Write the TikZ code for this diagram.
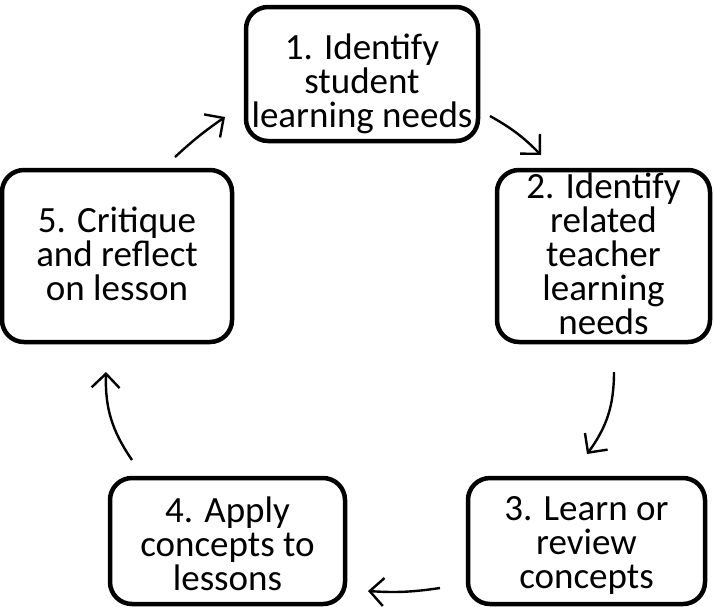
\documentclass[tikz,border=0pt]{standalone}
\usepackage{fontspec}
\setmainfont{Carlito}
\usetikzlibrary{arrows.meta}
\newcommand{\boxtext}[2][0pt]{\makebox[0pt]{\smash{\raisebox{-#1}{\parbox[c]{260pt}{\centering\fontsize{37}{34}\selectfont #2}}}}}
\begin{document}
\begin{tikzpicture}[x=1pt,y=-1pt,
  box/.style={draw, line width=4.5pt, rounded corners=22pt, inner sep=0pt},
  arr/.style={line width=2.4pt, -{Straight Barb[length=14pt,width=28pt]}},
]
\useasboundingbox (0,0) rectangle (714,606);
\node[box, minimum width=232pt, minimum height=134pt] (n1) at (362,74) {\boxtext[12pt]{1. Identify\\student\\learning needs}};
\node[box, minimum width=213pt, minimum height=172pt] (n2) at (603.5,256) {\boxtext{2. Identify\\related\\teacher\\learning\\needs}};
\node[box, minimum width=237pt, minimum height=126pt] (n3) at (586.5,541) {\boxtext[7pt]{3. Learn or\\review\\concepts}};
\node[box, minimum width=235pt, minimum height=126pt] (n4) at (227.5,541) {\boxtext[5pt]{4. Apply\\concepts to\\lessons}};
\node[box, minimum width=230pt, minimum height=172pt] (n5) at (117,256) {\boxtext{5. Critique\\and reflect\\on lesson}};
\coordinate (a1s) at (490,116); \coordinate (a1e) at (541,155);
\coordinate (a2s) at (614,372); \coordinate (a2e) at (587,454);
\coordinate (a3s) at (440,588); \coordinate (a3e) at (368,591);
\coordinate (a4s) at (132,460); \coordinate (a4e) at (106,372);
\coordinate (a5s) at (175,157); \coordinate (a5e) at (225,117);
\draw[arr] (a1s) to[bend left=8] (a1e);
\draw[arr] (a2s) to[bend left=18] (a2e);
\draw[arr] (a3s) to[bend left=6] (a3e);
\draw[arr] (a4s) to[bend left=18] (a4e);
\draw[arr] (a5s) to[bend left=4] (a5e);
\end{tikzpicture}
\end{document}
